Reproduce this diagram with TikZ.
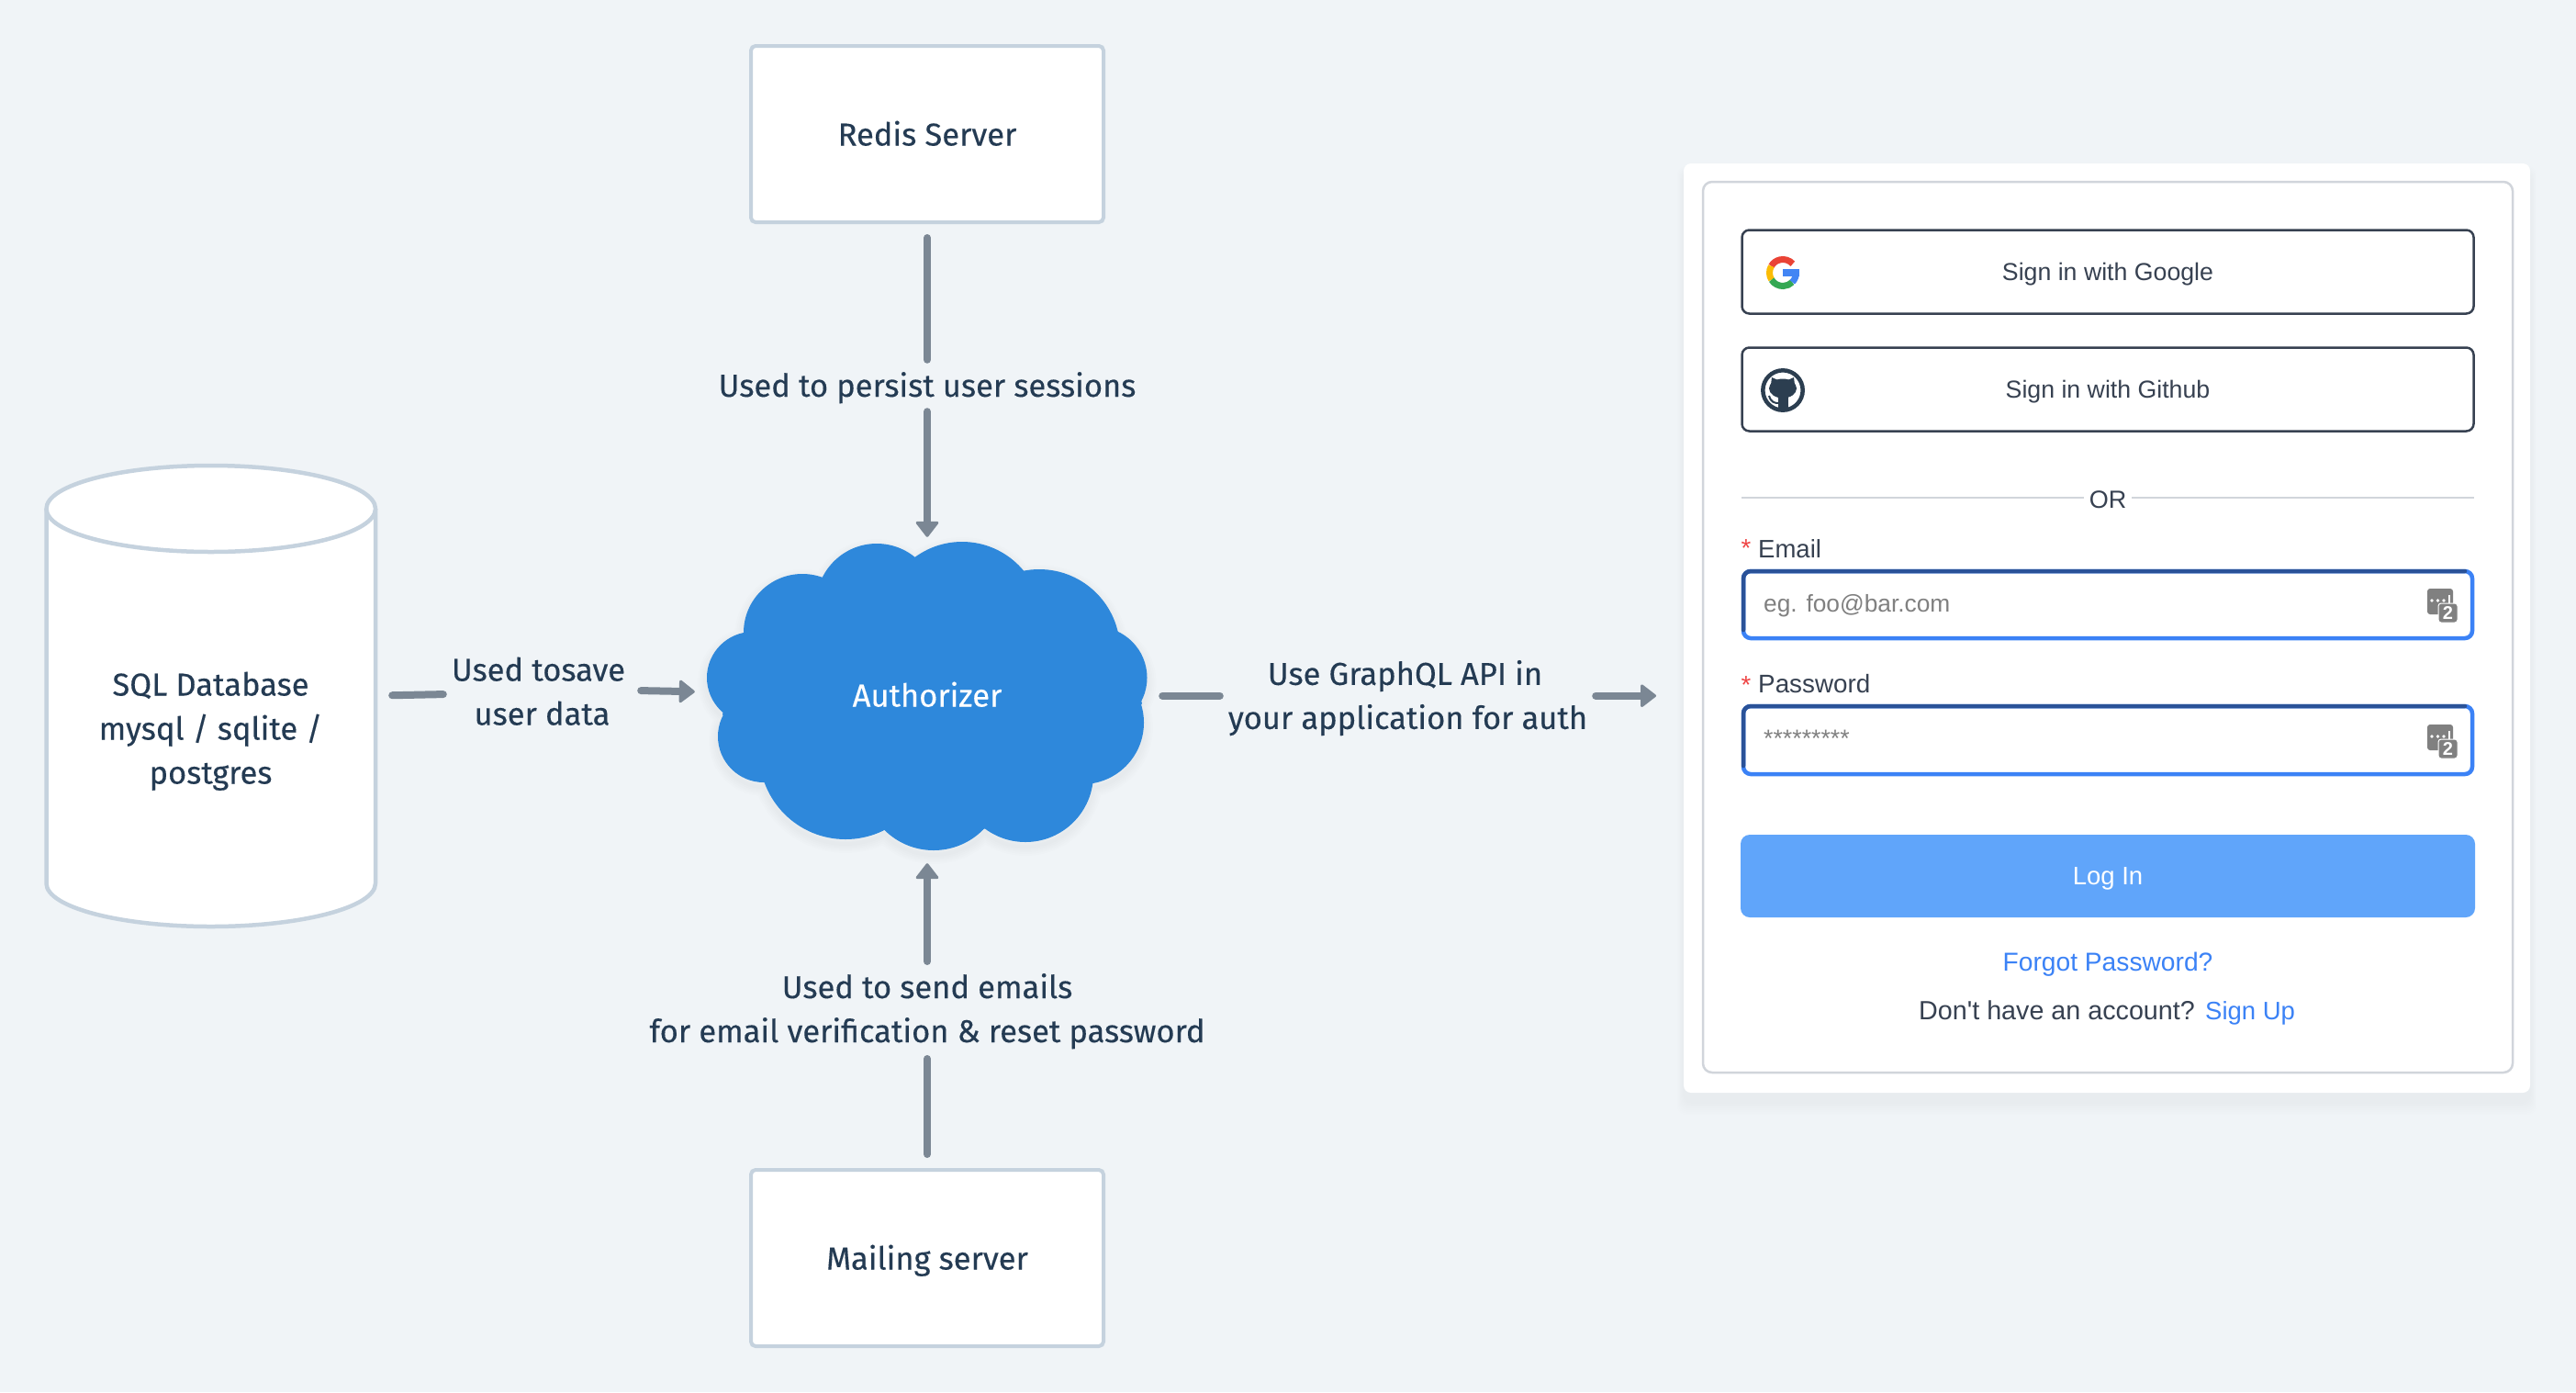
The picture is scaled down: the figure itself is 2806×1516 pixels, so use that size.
\documentclass[tikz,border=0pt]{standalone}
\usepackage{fontspec}
\usetikzlibrary{arrows.meta}
\newfontfamily\uifnt{Liberation Sans}
\newfontfamily\dinf{Fira Sans}[FakeBold=0.25]
\definecolor{bgc}{HTML}{F0F4F7}
\definecolor{inkc}{HTML}{243B53}
\definecolor{linec}{HTML}{7B8794}
\definecolor{edgec}{HTML}{C5D2DE}
\definecolor{cloudc}{HTML}{2E88DB}
\definecolor{uic}{HTML}{374151}
\definecolor{hairc}{HTML}{D1D5DB}
\definecolor{bluec}{HTML}{3B82F6}
\definecolor{darkbluec}{HTML}{2A5298}
\definecolor{btnc}{HTML}{60A5FA}
\definecolor{greyc}{HTML}{808080}
\definecolor{ghc}{HTML}{2C3E50}
\definecolor{gred}{HTML}{EA4335}
\definecolor{gyel}{HTML}{FBBC05}
\definecolor{ggrn}{HTML}{34A853}
\definecolor{gblu}{HTML}{4285F4}
\definecolor{starc}{HTML}{EF4444}
\newcommand{\dinsize}{\dinf\fontsize{34.5}{48}\selectfont}
\newcommand{\uisize}[1]{\uifnt\fontsize{#1}{32}\selectfont}
\tikzset{
  x=1pt,y=-1pt,
  din/.style={font=\dinsize,text=inkc,inner sep=0pt},
  ui/.style={font=\uisize{27.5},text=uic,inner sep=0pt,anchor=base},
  bigbox/.style={draw=edgec,line width=4pt,fill=white,rounded corners=5pt,minimum width=384pt,minimum height=192pt,inner sep=0pt,
     font=\dinsize,text=inkc,text height=25pt,text depth=0pt},
  lab/.style={din,align=center},
  conn/.style={draw=linec,line width=8pt,line cap=round},
  arr/.style={conn,-{Triangle[length=18pt,width=27pt,line width=3pt,round,fill=linec]}},
  sso/.style={draw=uic,line width=2.5pt,fill=white,rounded corners=8pt,minimum width=797pt,minimum height=91pt,inner sep=0pt},
  field/.style={draw=bluec,line width=4.5pt,fill=white,rounded corners=8pt,minimum width=794pt,minimum height=73pt,inner sep=0pt},
}
\newcommand{\cloudcircles}{(955,658) circle[radius=66pt] (1048,677) circle[radius=87pt] (1132,708) circle[radius=88pt]
 (1194,738) circle[radius=55.5pt] (1179,787) circle[radius=67pt] (1117,843) circle[radius=74pt] (1017,850) circle[radius=76pt]
 (921,820) circle[radius=94pt] (832,802) circle[radius=50pt] (820,738) circle[radius=50pt] (874,689) circle[radius=64pt]}
\newcommand{\twofa}[2]{%
  \fill[greyc,rounded corners=3pt] (#1,#2) rectangle ++(28,28);
  \fill[greyc,draw=white,line width=1pt,rounded corners=3pt] (#1+12,#2+16) rectangle ++(21,21);
  \fill[white] (#1+5,#2+13) circle[radius=1.9pt] (#1+11.5,#2+13) circle[radius=1.9pt] (#1+18,#2+13) circle[radius=1.9pt];
  \fill[white] (#1+23.3,#2+7) rectangle ++(1.6,8.5);
  \node[inner sep=0pt,text=white,font=\uifnt\bfseries\fontsize{20}{20}\selectfont] (tf#2) at (#1+22.5,#2+26.5) {2};
}
\begin{document}
\begin{tikzpicture}
\useasboundingbox (0,0) rectangle (2806,1516);
\fill[bgc] (0,0) rectangle (2806,1516);
% boxes
\node[bigbox] (redis) at (1010,146) {Redis Server};
\node[bigbox] (mail) at (1010,1370) {Mailing server};
% cylinder
\node[minimum width=358.5pt,minimum height=503pt,inner sep=0pt] (db) at (229.75,757.6) {};
\path[fill=white,draw=edgec,line width=4.5pt] (50.5,554) -- (50.5,962) arc[start angle=180,end angle=360,x radius=179.25pt,y radius=47pt] -- (409,554);
\path[fill=white,draw=edgec,line width=4.5pt] (229.75,554) ellipse[x radius=179.25pt,y radius=47pt];
\node[lab] (dbtext) at (229.5,796.5) {\rule{0pt}{33pt}SQL Database\\mysql / sqlite /\\postgres\rule[-15pt]{0pt}{15pt}};
% cloud
\foreach \s in {4,8,...,20}{\draw[black,opacity=.007,line width=\s pt,shift={(0,5)}] \cloudcircles;}
\fill[cloudc] \cloudcircles;
\fill[cloudc] (898,628) -- (997,607) -- (1114,621) -- (1218,688) -- (1244,766) -- (1190,853) -- (1071,903) -- (964,904) -- (837,852) -- (787,778) -- (811,689) -- cycle;
\node[minimum width=480pt,minimum height=334pt,inner sep=0pt,text=white,font=\dinsize,text height=25pt,text depth=0pt] (auth) at (1010,757) {Authorizer};
% connector labels
\node[lab,minimum width=600pt,minimum height=48pt] (persist) at (1010,420) {\rule[-12pt]{0pt}{48pt}Used to persist user sessions};
\node[lab,minimum width=640pt,minimum height=97.6pt] (mlab) at (1010,1100) {\rule[-13pt]{0pt}{48pt}Used to send emails\\for email verification \& reset password\rule[-13pt]{0pt}{13pt}};
\node[lab,minimum width=207pt,minimum height=94pt] (save) at (590.5,756) {\rule{0pt}{33pt}Used tosave\hspace*{8pt}\\user data\rule[-14pt]{0pt}{14pt}};
\node[lab,minimum width=401pt,minimum height=96pt] (api) at (1533.5,757.7) {\rule{0pt}{36.3pt}Use GraphQL API in\hspace*{6pt}\\your application\ \hspace{-9pt}\ for auth\rule[-12pt]{0pt}{12pt}};
% connectors
\draw[conn,shorten <=15pt,shorten >=4pt] (redis.south) -- (persist.north);
\draw[arr,shorten <=4pt,shorten >=5pt] (persist.south) -- (auth.north);
\draw[arr,shorten <=4pt,shorten >=16pt] (mlab.north) -- (auth.south);
\draw[conn,shorten <=4pt,shorten >=15pt] (mlab.south) -- (mail.north);
\draw[conn,shorten <=18pt,shorten >=4pt] (db.east) -- (save.west);
\draw[arr,shorten <=4pt,shorten >=13pt] ([yshift=4pt]save.east) -- ([yshift=3.5pt]auth.west);
\draw[conn,shorten <=16pt,shorten >=4pt] (auth.east) ++(0,0.7) -- (api.west);
% card
\foreach \s in {3,6,...,24}{\fill[black,opacity=.005,rounded corners=10pt] (1834-\s*.3,178+10-\s*.3) rectangle (2756+\s*.3,1190+10+\s*.6);}
\path[fill=white,rounded corners=8pt] (1834,178) rectangle (2756,1190);
\path[draw=hairc,line width=2.5pt,rounded corners=10pt] (1855,198) rectangle (2737,1168);
\coordinate (cardin) at (1834,757.7);
\draw[arr,shorten <=4pt,shorten >=30pt] (api.east) -- (cardin);
% SSO
\node[sso] (google) at (2296,296) {};
\node[sso] (github) at (2296,424) {};
\node[ui,font=\uisize{26.7}] (gtext) at (2296,305) {Sign in with Google};
\node[ui,font=\uisize{26.7}] (htext) at (2296,433) {Sign in with Github};
% google G
\coordinate (g) at (1942,297);
\draw[line width=7pt,draw=gred] ([shift={(42:14.5pt)}]g) arc[start angle=42,end angle=150,radius=14.5pt];
\draw[line width=7pt,draw=gyel] ([shift={(150:14.5pt)}]g) arc[start angle=150,end angle=212,radius=14.5pt];
\draw[line width=7pt,draw=ggrn] ([shift={(212:14.5pt)}]g) arc[start angle=212,end angle=315,radius=14.5pt];
\draw[line width=7pt,draw=gblu] ([shift={(315:14.5pt)}]g) arc[start angle=315,end angle=360,radius=14.5pt];
\fill[gblu] (1942,293) rectangle (1960,301);
% github
\draw[ghc,line width=4.5pt] (1942,425) circle[radius=21.7pt];
\fill[ghc] (1942,423) ellipse[x radius=15pt,y radius=10.5pt];
\fill[ghc] (1929,419) -- (1930,411) -- (1938,414.5) -- (1946,414.5) -- (1954,411) -- (1955,419) -- cycle;
\fill[ghc] (1937,430) rectangle (1948,447);
\draw[ghc,line width=2pt] (1927,431) .. controls (1929,438) and (1933,439) .. (1937,439);
% OR
\node[ui,font=\uisize{27}] (ortext) at (2296,553) {OR};
\coordinate (orl) at (1897,542); \coordinate (orr) at (2695,542);
\draw[hairc,line width=2.5pt] (orl) -- (2270,542);
\draw[hairc,line width=2.5pt] (2322,542) -- (orr);
% email
\node[ui,anchor=base west] (email) at (1915,607) {Email};
\node[ui,text=starc,anchor=center] (s1) at (1902,597) {*};
\node[field] (efield) at (2296,658.5) {};
\draw[darkbluec,line width=4.5pt,line cap=round] (1899,686) -- (1899,630) arc[start angle=180,end angle=90,radius=8pt] -- (2685,622);
\node[ui,font=\uisize{26.3},anchor=base west,text=greyc] (eph) at (1921,666) {eg. foo@bar.com};
\twofa{2644}{641}
% password
\node[ui,font=\uisize{27.8},anchor=base west] (pass) at (1915,754) {Password};
\node[ui,text=starc,anchor=center] (s2) at (1902,746) {*};
\node[field,minimum height=74pt] (pfield) at (2296,806) {};
\draw[darkbluec,line width=4.5pt,line cap=round] (1899,834) -- (1899,777) arc[start angle=180,end angle=90,radius=8pt] -- (2685,769);
\node[ui,anchor=base west,text=greyc,font=\uisize{26.7}] (pph) at (1921,813) {*********};
\twofa{2644}{789}
% login
\node[fill=btnc,rounded corners=10pt,minimum width=800pt,minimum height=90pt,inner sep=0pt] (login) at (2296,954) {};
\node[ui,text=white] (ltext) at (2296,963) {Log In};
\node[ui,font=\uisize{28.2},text=bluec] (forgot) at (2296,1057) {Forgot Password?};
\node[ui,font=\uisize{28.7},anchor=base west] (dont) at (2090,1110) {Don't have an account?};
\node[ui,anchor=base west,text=bluec] (signup) at (2402,1110) {Sign Up};
\end{tikzpicture}
\end{document}
